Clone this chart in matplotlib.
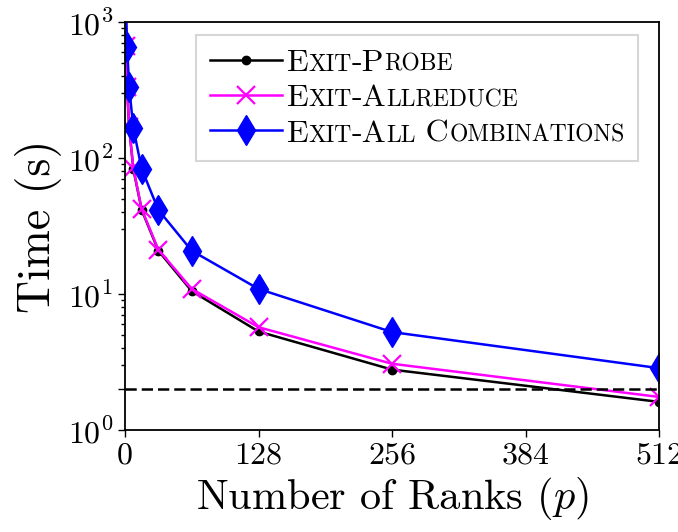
import matplotlib
matplotlib.use('Agg')
import matplotlib.pyplot as plt
from matplotlib.offsetbox import TextArea, HPacker
from matplotlib.ticker import LogLocator, NullFormatter
import numpy as np

plt.rcParams['font.family'] = 'cmr10'
plt.rcParams['mathtext.fontset'] = 'cm'
plt.rcParams['axes.formatter.use_mathtext'] = True

ranks = [1, 2, 4, 8, 16, 32, 64, 128, 256, 512]
exit_probe = [660, 330, 166, 83, 41.5, 20.8, 10.5, 5.3, 2.78, 1.61]
exit_allreduce = [665, 333, 168, 84, 42, 21.2, 10.9, 5.7, 3.07, 1.75]
exit_all = [1310, 660, 332, 166, 83, 41.5, 20.8, 10.9, 5.25, 2.85]
baseline = 2.0

xticks = [0, 128, 256, 384, 512]
yticks = [1, 2, 10, 100, 1000]
ylabels = [r'$10^0$', '', r'$10^1$', r'$10^2$', r'$10^3$']

fig = plt.figure(figsize=(6.78, 5.32), dpi=100)
ax = fig.add_axes([125/678, 1-430/532, 534/678, 408/532])

ax.plot(ranks, exit_probe, color='k', lw=1.8, marker='o', ms=6, label='Exit-Probe')
ax.plot(ranks, exit_allreduce, color='#ff00ff', lw=1.8, marker='x', ms=13, mew=1.6,
        label='Exit-Allreduce')
ax.plot(ranks, exit_all, color='#0000ff', lw=1.8, marker='d', ms=15, label='Exit-All Combinations')
ax.axhline(baseline, color='k', lw=1.8, dashes=(4.5, 2))

ax.set_yscale('log')
ax.set_xlim(0, 512)
ax.set_ylim(1, 1000)
ax.set_xticks(xticks)
ax.set_xticklabels([str(t) for t in xticks])
ax.set_yticks(yticks)
ax.set_yticklabels(ylabels)
ax.yaxis.set_minor_locator(LogLocator(base=10, subs=np.arange(3, 10)))
ax.yaxis.set_minor_formatter(NullFormatter())
ax.tick_params(labelsize=23, width=1, length=5)
ax.tick_params(which='minor', width=1, length=3)
for s in ax.spines.values():
    s.set_linewidth(1.3)

ax.set_xlabel('Number of Ranks ' + r'$(p)$', fontsize=30.5)
ax.set_ylabel('Time (s)', fontsize=33)

leg = ax.legend(loc='upper right', bbox_to_anchor=(638/678, 1-35/532),
                bbox_transform=fig.transFigure, borderaxespad=0, fontsize=23,
                fancybox=False, edgecolor='0.8', handlelength=2.25,
                handletextpad=0.15, labelspacing=0.22, borderpad=0.42)
leg.get_frame().set_linewidth(1.5)

# small caps labels
big, small = 23, 17
caps = [
    [('E', big), ('XIT', small), ('-P', big), ('ROBE', small)],
    [('E', big), ('XIT', small), ('-A', big), ('LLREDUCE', small)],
    [('E', big), ('XIT', small), ('-A', big), ('LL', small), (' C', big), ('OMBINATIONS', small)],
]
entries = leg._legend_handle_box.get_children()[0].get_children()
for entry, parts in zip(entries, caps):
    boxes = [TextArea(s, textprops=dict(fontsize=sz, family='cmr10', color='k'))
             for s, sz in parts]
    hp = HPacker(children=boxes, align='baseline', pad=0, sep=0)
    hp.set_figure(fig)
    entry._children[1] = hp

fig.savefig('out.png', dpi=100)
